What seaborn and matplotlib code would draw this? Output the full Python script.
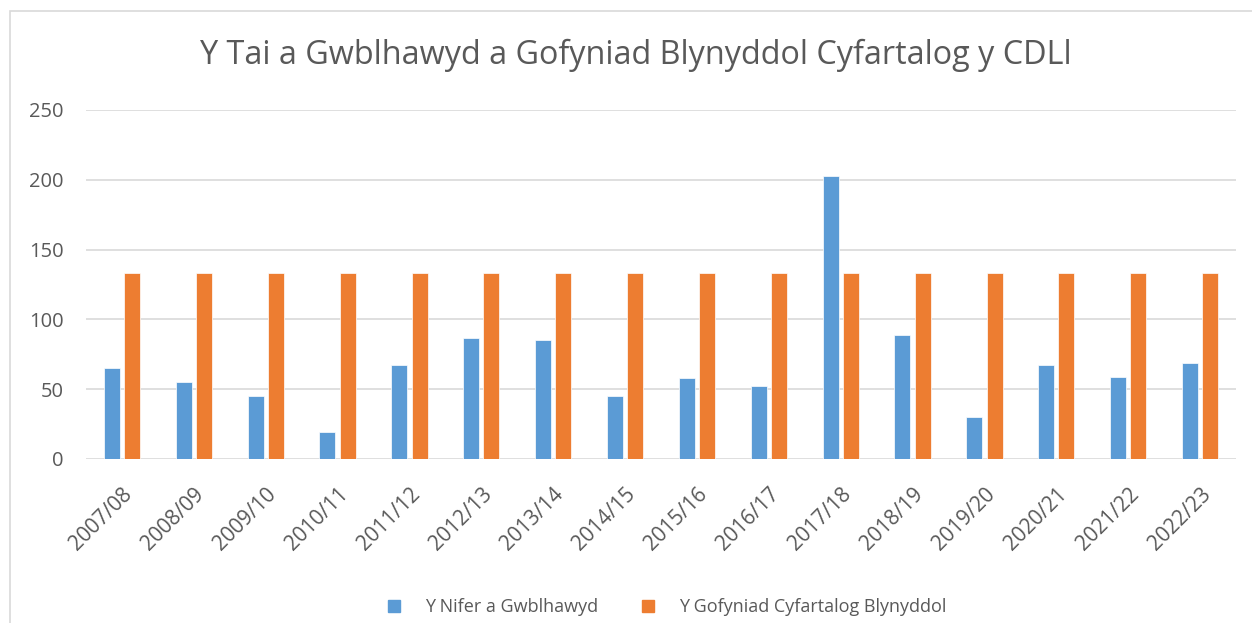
import numpy as np
import pandas as pd
import matplotlib
matplotlib.use("Agg")
import matplotlib.pyplot as plt
from matplotlib.patches import Rectangle
import seaborn as sns

years = ["2007/08", "2008/09", "2009/10", "2010/11", "2011/12", "2012/13",
         "2013/14", "2014/15", "2015/16", "2016/17", "2017/18", "2018/19",
         "2019/20", "2020/21", "2021/22", "2022/23"]
completed = [65, 55, 45, 19, 67, 87, 85, 45, 58, 52, 203, 89, 30, 67, 59, 69]
requirement = [133] * 16
series_names = ["Y Nifer a Gwblhawyd", "Y Gofyniad Cyfartalog Blynyddol"]
title = "Y Tai a Gwblhawyd a Gofyniad Blynyddol Cyfartalog y CDLl"
colors = ["#5B9BD5", "#ED7D31"]

df = pd.DataFrame({
    "year": years * 2,
    "value": completed + requirement,
    "series": [series_names[0]] * len(years) + [series_names[1]] * len(years),
})

sns.set_theme(style="white")
plt.rcParams["font.family"] = ["Open Sans", "DejaVu Sans"]
grey = "#595959"

W, H = 1252, 623
fig = plt.figure(figsize=(W / 100, H / 100), dpi=100)
ax = fig.add_axes([86 / W, 1 - 459 / H, (1236 - 86) / W, (459 - 110) / H])

sns.barplot(data=df, x="year", y="value", hue="series", palette=colors,
            saturation=1, width=0.565, gap=0.21,
            edgecolor="white", linewidth=0.5, ax=ax, zorder=3)

ax.set_ylim(0, 250)
ax.set_yticks(range(0, 251, 50))
ax.grid(axis="y", color="#D9D9D9", linewidth=1.2, zorder=0)
ax.grid(axis="x", visible=False)
for s in ax.spines.values():
    s.set_visible(False)
ax.set_xlabel("")
ax.set_ylabel("")
ax.tick_params(axis="y", length=0, pad=16, labelsize=14.5, labelcolor=grey)
ax.tick_params(axis="x", length=0, pad=18, labelsize=15, labelcolor=grey)
plt.setp(ax.get_xticklabels(), rotation=45, ha="right", rotation_mode="anchor")

ax.get_legend().remove()
handles = [Rectangle((0, 0), 1, 1, color=c) for c in colors]
leg = fig.legend(handles, series_names, loc="center", ncol=2,
                 bbox_to_anchor=(667 / W, 1 - 607 / H), frameon=False,
                 fontsize=13, handlelength=0.67, handleheight=0.67,
                 handletextpad=1.4, columnspacing=2.4)
for t in leg.get_texts():
    t.set_color(grey)

fig.text(636 / W, 1 - 55 / H, title, ha="center", va="center",
         fontsize=23.3, color=grey)

# chart frame
fig.patches.append(Rectangle((9.5 / W, -0.1), 1.2, 1.1 - 11.5 / H,
                             transform=fig.transFigure, fill=False,
                             edgecolor="#D9D9D9", linewidth=1.2))

fig.savefig("out.png", dpi=100)
